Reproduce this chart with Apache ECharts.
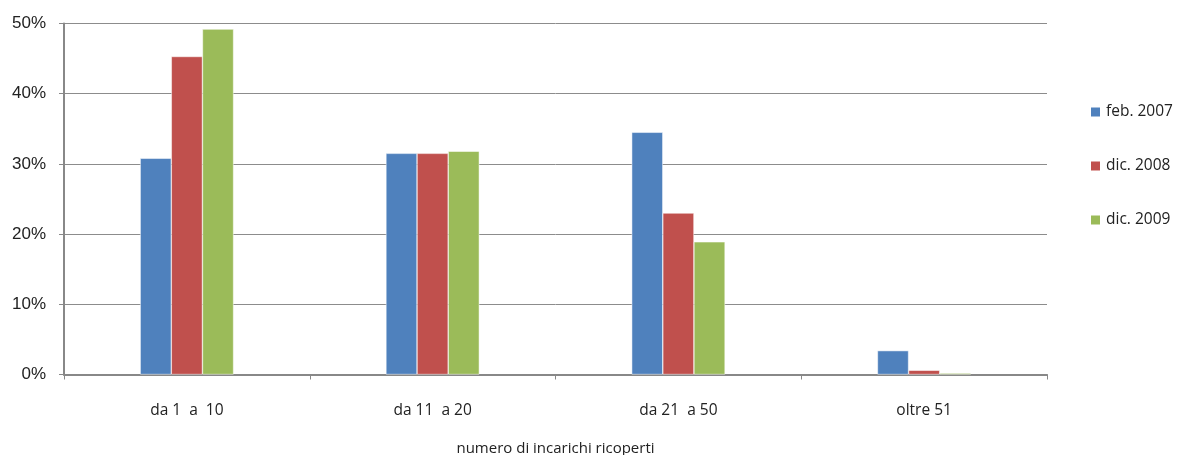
<!DOCTYPE html>
<html><head><meta charset="utf-8">
<script src="https://cdn.jsdelivr.net/npm/echarts@6/dist/echarts.min.js"></script>
<style>html,body{margin:0;padding:0;background:#fff}#c{width:1178px;height:455px}</style>
</head><body><div id="c"></div>
<script>
const categories = ['da 1  a  10', 'da 11  a 20', 'da 21  a 50', 'oltre 51'];
const seriesNames = ['feb. 2007', 'dic. 2008', 'dic. 2009'];
const feb2007 = [30.8, 31.5, 34.5, 3.4];
const dic2008 = [45.3, 31.5, 23.0, 0.6];
const dic2009 = [49.2, 31.8, 18.9, 0.2];
const yTicks = [0, 10, 20, 30, 40, 50];
const colors = ['#4F81BD', '#C0504D', '#9BBB59'];

const chart = echarts.init(document.getElementById('c'), null, {renderer: 'canvas'});
const mk = (name, data, i) => ({
  name, type: 'bar', data, barGap: '0%', barCategoryGap: '62%',
  itemStyle: {color: colors[i], borderColor: '#fff', borderWidth: 0.5}
});
chart.setOption({
  animation: false,
  grid: {left: 64, right: 131, top: 23.5, bottom: 80.5, outerBoundsMode: 'none', containLabel: false},
  legend: {
    orient: 'vertical', left: 1084, top: 99, itemWidth: 11, itemHeight: 11, itemGap: 38,
    icon: 'rect', data: seriesNames,
    textStyle: {fontFamily: 'Open Sans', fontSize: 15.5, color: '#222'}
  },
  xAxis: {
    type: 'category', data: categories,
    name: 'numero di incarichi ricoperti', nameLocation: 'middle', nameGap: 67,
    nameTextStyle: {fontFamily: 'Open Sans', fontSize: 15, color: '#222'},
    axisLine: {lineStyle: {color: '#888', width: 2}},
    axisTick: {show: true, alignWithLabel: false, length: 5, lineStyle: {color: '#888'}},
    axisLabel: {fontFamily: 'Open Sans', fontSize: 15.5, color: '#222', margin: 28}
  },
  yAxis: {
    type: 'value', min: 0, max: 50, interval: 10,
    axisLine: {show: true, lineStyle: {color: '#888', width: 2}},
    axisTick: {show: true, length: 5, lineStyle: {color: '#888'}},
    splitLine: {lineStyle: {color: '#8c8c8c', width: 1}},
    axisLabel: {fontFamily: 'Liberation Sans', fontSize: 17, color: '#222', margin: 18,
      formatter: v => yTicks.includes(v) ? v + '%' : ''}
  },
  series: [mk(seriesNames[0], feb2007, 0), mk(seriesNames[1], dic2008, 1), mk(seriesNames[2], dic2009, 2)]
});
</script></body></html>
